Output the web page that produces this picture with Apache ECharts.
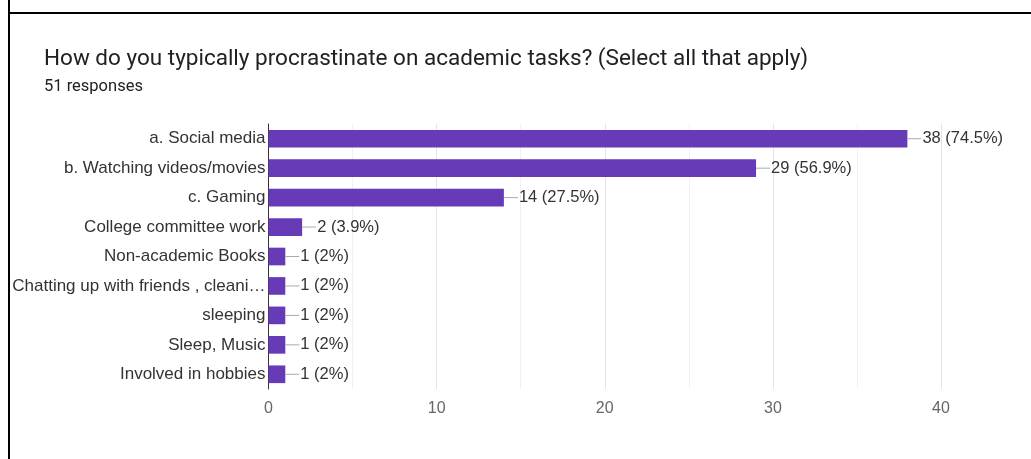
<!DOCTYPE html>
<html>
<head>
<meta charset="utf-8">
<script src="https://cdn.jsdelivr.net/npm/echarts@6/dist/echarts.min.js"></script>
<style>
html,body{margin:0;padding:0;background:#fff;}
#chart{width:1031px;height:459px;}
</style>
</head>
<body>
<div id="chart"></div>
<script>
const titleText = 'How do you typically procrastinate on academic tasks? (Select all that apply)';
const subtitleText = '51 responses';
const categories = ['a. Social media','b. Watching videos/movies','c. Gaming','College committee work','Non-academic Books','Chatting up with friends , cleani…','sleeping','Sleep, Music','Involved in hobbies'];
const counts = [38, 29, 14, 2, 1, 1, 1, 1, 1];
const percents = ['74.5%','56.9%','27.5%','3.9%','2%','2%','2%','2%','2%'];
const xTicks = [0, 10, 20, 30, 40];

const chart = echarts.init(document.getElementById('chart'), null, {renderer:'canvas'});
chart.setOption({
  animation:false,
  backgroundColor:'#fff',
  title:[
    {text:titleText,left:44,top:48,padding:0,textStyle:{fontFamily:'Roboto',fontWeight:'normal',fontSize:22.5,color:'#202124'}},
    {text:subtitleText,left:44,top:78,padding:0,textStyle:{fontFamily:'Roboto',fontWeight:'normal',fontSize:16.5,color:'#202124'}}
  ],
  graphic:[
    {type:'line',shape:{x1:9,y1:0,x2:9,y2:459},style:{stroke:'#000',lineWidth:2},silent:true},
    {type:'line',shape:{x1:8,y1:13,x2:1031,y2:13},style:{stroke:'#000',lineWidth:2},silent:true}
  ],
  grid:{left:268.5,right:90,top:124,bottom:70,containLabel:false},
  xAxis:{
    type:'value',min:xTicks[0],max:xTicks[xTicks.length-1],interval:10,
    axisLine:{show:false},axisTick:{show:false},
    axisLabel:{color:'#666',fontFamily:'Liberation Sans',fontSize:16,margin:12},
    splitLine:{show:true,lineStyle:{color:'#e4e4e4',width:1}},
    minorTick:{show:false,splitNumber:2},
    minorSplitLine:{show:true,lineStyle:{color:'#f1f1f1',width:1}}
  },
  yAxis:{
    type:'category',data:categories,inverse:true,
    axisLine:{show:true,lineStyle:{color:'#333',width:1}},
    axisTick:{show:false},
    axisLabel:{color:'#333',fontFamily:'Liberation Sans',fontSize:17,margin:3}
  },
  series:[{
    type:'bar',data:counts,barCategoryGap:'40%',
    itemStyle:{color:'#673ab7'},
    label:{show:true,position:'right',distance:0,
      formatter:p=>'{ln|}{t|'+p.value+' ('+percents[p.dataIndex]+')}',
      rich:{
        ln:{width:14,height:1,backgroundColor:'#aaa'},
        t:{color:'#333',fontFamily:'Liberation Sans',fontSize:16.5,padding:[0,0,0,1]}
      }
    }
  }]
});
</script>
</body>
</html>
